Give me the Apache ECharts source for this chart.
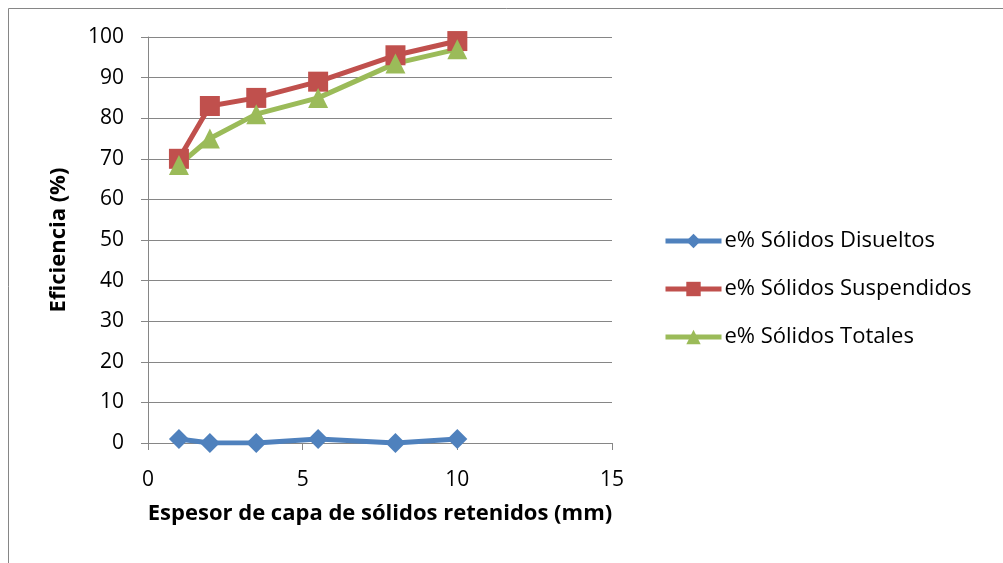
<!DOCTYPE html>
<html>
<head>
<meta charset="utf-8">
<script src="https://cdn.jsdelivr.net/npm/echarts@6/dist/echarts.min.js"></script>
<style>
    html, body { margin: 0; padding: 0; background: #fff; }
    #chart { width: 1003px; height: 563px; }
</style>
</head>
<body>
<div id="chart"></div>
<script type="text/javascript">
    // espesor (mm)
    var espesor = [1, 2, 3.5, 5.5, 8, 10];
    // eficiencias (%)
    var disueltos = [1, 0, 0, 1, 0, 1];
    var suspendidos = [70, 83, 85, 89, 95.5, 99];
    var totales = [68.5, 75, 81, 85, 93.5, 97];
    var nombres = ['e% Sólidos Disueltos', 'e% Sólidos Suspendidos', 'e% Sólidos Totales'];

    function pares(ys) {
        var out = [];
        for (var i = 0; i < espesor.length; i++) {
            out.push([espesor[i], ys[i]]);
        }
        return out;
    }

    var myChart = echarts.init(document.getElementById('chart'));
    var fuente = '"Open Sans", "Liberation Sans", sans-serif';

    var option = {
        animation: false,
        color: ['#4f81bd', '#c0504d', '#9bbb59'],
        textStyle: { fontFamily: fuente },
        graphic: [{
            type: 'rect',
            shape: { x: 8.5, y: 8.5, width: 1010, height: 600 },
            style: { fill: 'none', stroke: '#868686', lineWidth: 1 }
        }],
        grid: { left: 148, right: 391, top: 37, bottom: 120 },
        legend: {
            orient: 'vertical',
            left: 658,
            top: 225,
            itemGap: 26,
            itemWidth: 56,
            itemHeight: 18,
            lineStyle: { width: 5 },
            textStyle: { fontSize: 22, color: '#000', fontFamily: fuente, padding: [0, 0, 0, -2] },
            data: nombres
        },
        xAxis: {
            type: 'value',
            min: 0, max: 15, interval: 5,
            name: 'Espesor de capa de sólidos retenidos (mm)',
            nameLocation: 'middle',
            nameGap: 60,
            nameTextStyle: { fontSize: 22, fontWeight: 'bold', color: '#000', fontFamily: fuente },
            axisLine: { lineStyle: { color: '#868686', width: 1 } },
            axisTick: { show: true, length: 7, lineStyle: { color: '#868686' } },
            axisLabel: { fontSize: 21, color: '#000', margin: 27 },
            splitLine: { show: false }
        },
        yAxis: {
            type: 'value',
            min: 0, max: 100, interval: 10,
            name: 'Eficiencia (%)',
            nameLocation: 'middle',
            nameRotate: 90,
            nameGap: 78,
            nameTextStyle: { fontSize: 22, fontWeight: 'bold', color: '#000', fontFamily: fuente },
            axisLine: { show: true, lineStyle: { color: '#868686', width: 1 } },
            axisTick: { show: true, length: 7, lineStyle: { color: '#868686' } },
            axisLabel: { fontSize: 21, color: '#000', margin: 24 },
            splitLine: { lineStyle: { color: '#868686', width: 1 } }
        },
        series: [
            {
                name: nombres[0], type: 'line', data: pares(disueltos),
                symbol: 'diamond', symbolSize: 20,
                lineStyle: { width: 5 }
            },
            {
                name: nombres[1], type: 'line', data: pares(suspendidos),
                symbol: 'rect', symbolSize: 20,
                lineStyle: { width: 5 }
            },
            {
                name: nombres[2], type: 'line', data: pares(totales),
                symbol: 'triangle', symbolSize: 20,
                lineStyle: { width: 5 }
            }
        ]
    };

    myChart.setOption(option, true);
</script>
</body>
</html>
